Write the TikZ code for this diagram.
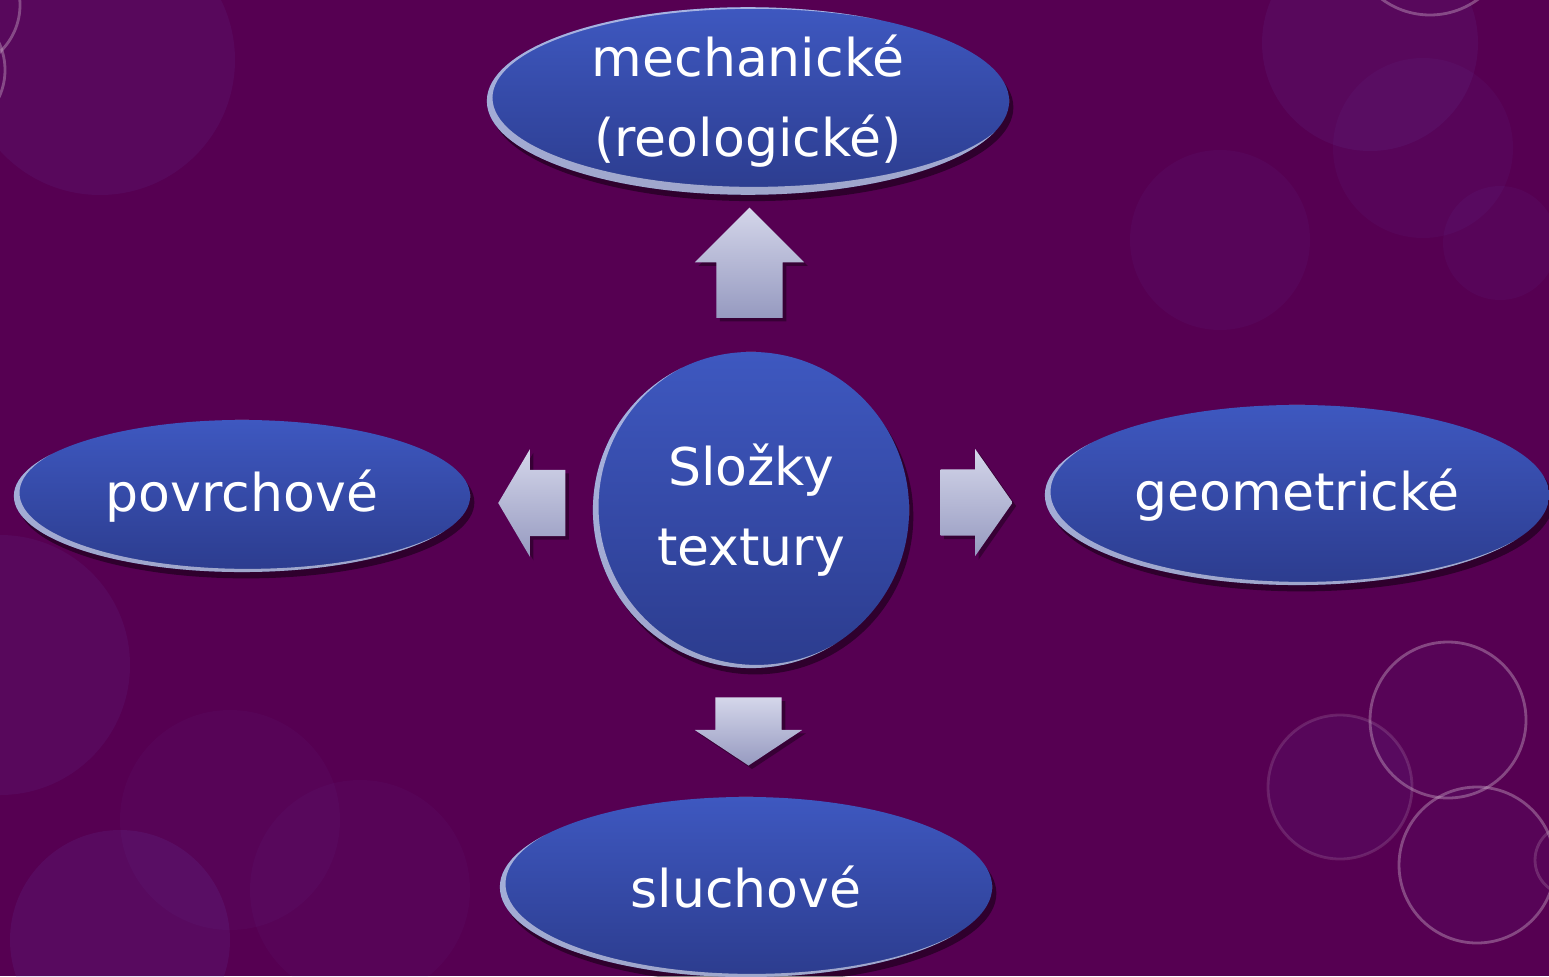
\documentclass[tikz,border=0pt]{standalone}
\usepackage{fontspec}
\setmainfont{DejaVu Sans}
\usetikzlibrary{shapes.geometric, shapes.arrows, shadows, calc}

\definecolor{bgpurple}{RGB}{86,0,82}
\definecolor{bokehcol}{RGB}{105,75,180}
\definecolor{ringcol}{RGB}{205,175,200}
\definecolor{bubbletop}{RGB}{62,88,192}
\definecolor{bubblebot}{RGB}{44,60,142}
\definecolor{arrowtop}{RGB}{212,214,234}
\definecolor{arrowbot}{RGB}{150,154,192}

\begin{document}
\begin{tikzpicture}[x=0.01cm, y=-0.01cm,
  bokeh/.style={fill=bokehcol, fill opacity=.11},
  ring/.style={draw=ringcol, draw opacity=.4, line width=.8pt},
  bubble/.style 2 args={ellipse, minimum width=#1, minimum height=#2, inner sep=0pt,
    top color=bubbletop, bottom color=bubblebot, text=white, align=center,
    font=\fontsize{14.8}{22.8}\selectfont,
    drop shadow={opacity=.45, fill=black, shadow xshift=1.2pt, shadow yshift=-1.8pt},
    path picture={\fill[white, opacity=.55, even odd rule]
      (path picture bounding box.south west) rectangle (path picture bounding box.north east)
      ($(path picture bounding box.center)+(1.6pt,0.9pt)$) ellipse[x radius=#1/2, y radius=#2/2];}},
  blockarrow/.style={single arrow, minimum width=1.06cm,
    single arrow head extend=.205cm, top color=arrowtop, bottom color=arrowbot,
    drop shadow={opacity=.35, fill=black, shadow xshift=1pt, shadow yshift=-1pt}},
  vshaft/.style={inner xsep=.325cm, inner ysep=0pt},
  hshaft/.style={inner ysep=.325cm, inner xsep=0pt}]

% background
\fill[bgpurple] (0,0) rectangle (1549,976);
\useasboundingbox (0,0) rectangle (1549,976);
\clip (0,0) rectangle (1549,976);
\fill[bokeh] (100,60) circle[radius=135];
\fill[bokeh] (0,665) circle[radius=130];
\fill[bokeh, fill opacity=.06] (230,820) circle[radius=110];
\fill[bokeh, fill opacity=.14] (120,940) circle[radius=110];
\fill[bokeh, fill opacity=.06] (360,890) circle[radius=110];
\fill[bokeh] (1370,43) circle[radius=108];
\fill[bokeh, fill opacity=.08] (1423,148) circle[radius=90];
\fill[bokeh, fill opacity=.08] (1500,243) circle[radius=57];
\fill[bokeh, fill opacity=.08] (1220,240) circle[radius=90];
\fill[bokeh, fill opacity=.09] (1340,787) circle[radius=72];
\fill[bokeh, fill opacity=.06] (1448,720) circle[radius=78];
\fill[bokeh, fill opacity=.06] (1477,865) circle[radius=78];
\draw[ring] (1430,-66) circle[radius=81];
\draw[ring] (-45,5) circle[radius=65];
\draw[ring] (-60,70) circle[radius=65];
\draw[ring] (1448,720) circle[radius=78];
\draw[ring] (1477,865) circle[radius=78];
\draw[ring, draw opacity=.18] (1340,787) circle[radius=72];
\draw[ring, draw opacity=.22] (1570,860) circle[radius=35];

% nodes
\node[bubble={3.16cm}{3.16cm}] (core) at (751,510) {Složky\\textury};
\node[bubble={5.22cm}{1.78cm}] (mech) at (748,101) {mechanické\\(reologické)};
\node[bubble={4.56cm}{1.52cm}] (surf) at (242,496) {povrchové};
\node[bubble={5.04cm}{1.80cm}] (geom) at (1297,495) {geometrické};
\node[bubble={4.92cm}{1.80cm}] (sound) at (746,887) {sluchové};

% arrows
\node[blockarrow, vshaft, shape border rotate=90, minimum height=1.10cm, minimum width=1.08cm,
  single arrow head extend=.215cm, single arrow tip angle=90, yshift=-.06cm]
  (toMech) at ($(core.north)!.5!(mech.south)$) {};
\node[blockarrow, vshaft, shape border rotate=270, minimum height=.68cm, single arrow tip angle=113,
  yshift=.12cm]
  (toSound) at ($(core.south)!.5!(sound.north)$) {};
\node[blockarrow, hshaft, shape border rotate=180, minimum height=.67cm, single arrow tip angle=119,
  xshift=.10cm]
  (toSurf) at ($(core.west)!.5!(surf.east)$) {};
\node[blockarrow, hshaft, minimum height=.72cm, single arrow tip angle=110, xshift=-.12cm]
  (toGeom) at ($(core.east)!.5!(geom.west)$) {};
\end{tikzpicture}
\end{document}
